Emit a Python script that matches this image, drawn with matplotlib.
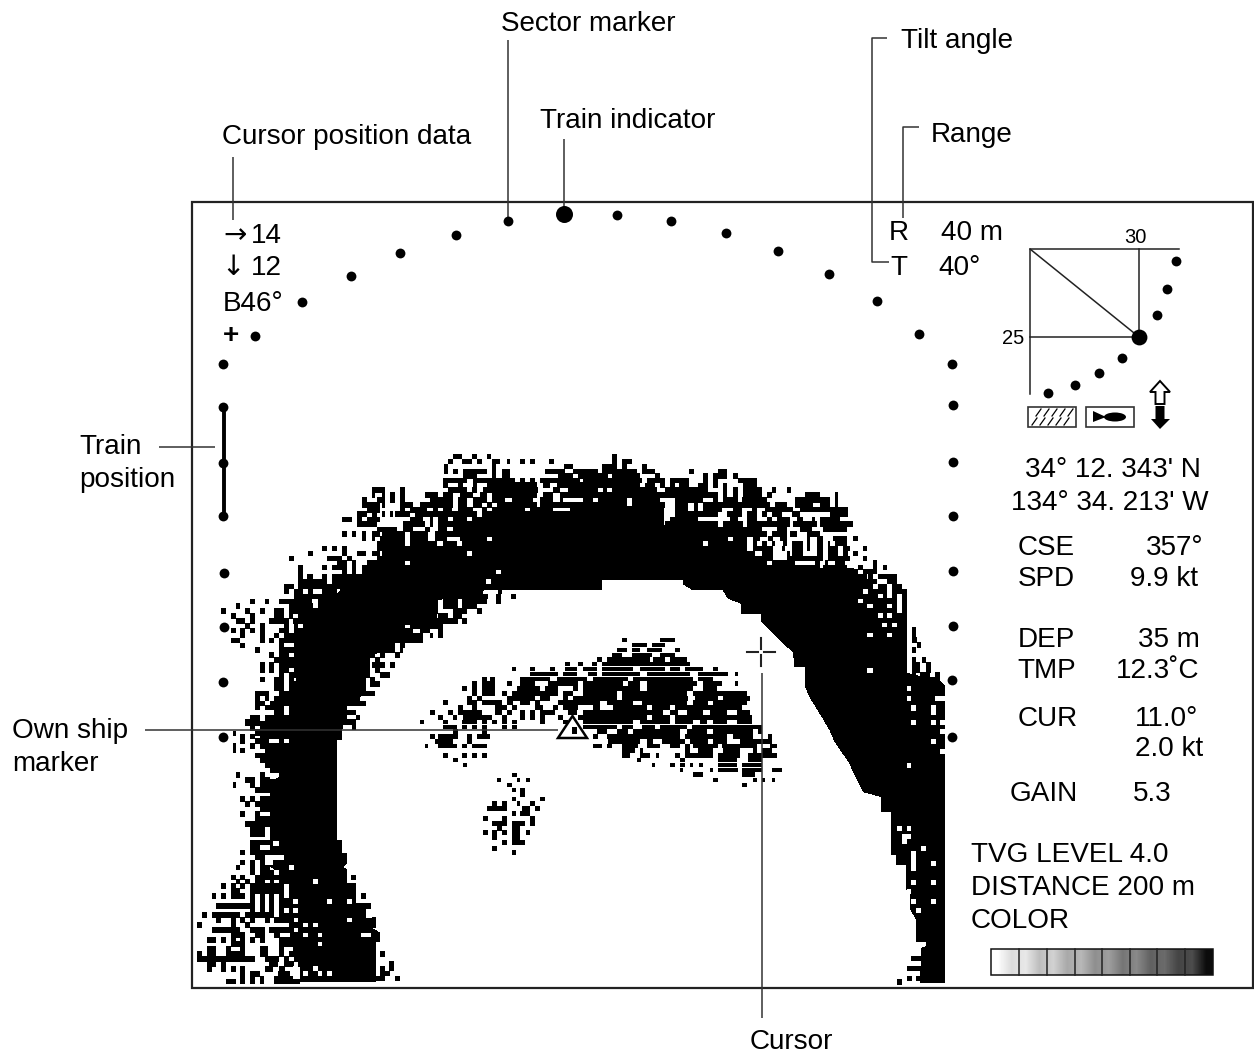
import matplotlib
matplotlib.use("Agg")
import matplotlib.pyplot as plt
from matplotlib.patches import Polygon, Rectangle, Ellipse

plt.rcParams['font.family'] = ['Liberation Sans', 'DejaVu Sans']

CELL = 5.6
FS = 20.1

# sector marker dots, pixel positions on the display
sector_x = [223, 255, 302, 351, 400, 456, 508, 617, 671, 726, 778, 829, 877, 919, 952, 953, 953, 953, 953, 953, 952, 952,
            223, 223, 223, 224, 224, 223, 223]
sector_y = [364, 336, 302, 276, 253, 235, 221, 215, 221, 233, 251, 274, 301, 334, 364, 405, 462, 516, 571, 626, 680, 737,
            407, 463, 516, 573, 627, 682, 737]
inset_x = [1176, 1167, 1157, 1122, 1099, 1075, 1048]
inset_y = [261, 289, 315, 358, 373, 385, 393]

# labels: text, x, baseline y
labels = [
    ("Sector marker", 501, 31), ("Tilt angle", 901, 48), ("Train indicator", 540, 128),
    ("Range", 931, 142), ("Cursor position data", 222, 144),
    ("Train", 79, 454), ("position", 79, 487), ("Own ship", 12, 738), ("marker", 12, 771),
    ("Cursor", 750, 1049),
    ("14", 251, 243), ("12", 251, 275), ("B46\u00b0", 223, 311),
    ("R", 889, 240), ("40 m", 941, 240), ("T", 890, 275), ("40\u00b0", 938, 275),
    ("34\u00b0 12. 343' N", 1025, 477), ("134\u00b0 34. 213' W", 1011, 510),
    ("CSE", 1018, 555), ("357\u00b0", 1146, 555), ("SPD", 1018, 586), ("9.9 kt", 1130, 586),
    ("DEP", 1018, 647), ("35 m", 1138, 647), ("TMP", 1017, 678), ("12.3\u02daC", 1116, 678),
    ("CUR", 1018, 726), ("11.0\u00b0", 1135, 726), ("2.0 kt", 1135, 756),
    ("GAIN", 1010, 801), ("5.3", 1133, 801),
    ("TVG LEVEL 4.0", 971, 862), ("DISTANCE 200 m", 971, 895), ("COLOR", 971, 928),
]
arrow_labels = [("\u2192", 223, 243), ("\u2193", 221, 275)]

# leader lines as (x list, y list)
leaders = [
    ([508, 508], [40, 221]), ([564, 564], [139, 214]), ([233, 233], [157, 220]),
    ([887, 872, 872, 889], [38, 38, 262, 262]), ([919, 903, 903], [127, 127, 218]),
    ([159, 215], [447, 447]), ([145, 558], [730, 730]), ([762, 762], [673, 1018]),
]

core_left = [(320, 900), (320, 650), (350, 590), (460, 440), (940, 440), (940, 320), (1000, 320), (1000, 225), (1205, 225),
             (1205, 450), (880, 450), (740, 480), (740, 540), (640, 555), (610, 610), (540, 650), (525, 720), (525, 760),
             (470, 790), (455, 870), (455, 900)]
core_foot = [(297, 0), (297, 70), (240, 70), (240, 155), (270, 175), (240, 180), (240, 440), (297, 460), (330, 480), (330, 785),
             (557, 785), (557, 665), (570, 665), (570, 640), (545, 625), (545, 595), (527, 595), (527, 550), (497, 550),
             (497, 490), (470, 490), (470, 450), (457, 440), (470, 430), (470, 400), (455, 400), (455, 360), (440, 360),
             (440, 60), (455, 35), (455, 0)]
core_right = [(0, 200), (220, 200), (220, 255), (330, 255), (330, 320), (470, 345), (530, 385), (790, 385), (790, 700), (950, 700),
              (1050, 725), (1065, 740), (1065, 900), (733, 900), (720, 870), (700, 835), (675, 795), (660, 770), (645, 735),
              (645, 680), (615, 680), (610, 635), (575, 605), (545, 575), (515, 545), (515, 520), (455, 520), (455, 490),
              (415, 475), (400, 450), (310, 450), (280, 432), (280, 420), (35, 420), (35, 450), (0, 450)]
core_leg = [(-48, 120), (0, 190), (10, 215), (40, 275), (95, 290), (95, 335), (125, 335), (125, 465), (140, 465), (140, 495),
            (170, 495), (170, 570), (180, 570), (180, 625), (198, 655), (198, 725), (228, 725), (228, 740), (215, 745),
            (212, 848), (285, 848), (285, 0), (-48, 0)]

# speckle rows: (crop y, x0, x1, x0, x1, ...)
rows_nw = [
    (50, 790, 815, 845, 860, 890, 903),
    (65, 775, 790, 815, 845, 860, 875, 905, 930, 950, 960, 990, 1005, 1020, 1035, 1078, 1092),
    (80, 762, 775, 905, 918, 1122, 1150),
    (95, 762, 775, 790, 803, 820, 890, 905, 918, 935, 960, 1065, 1125, 1150, 1200),
    (108, 820, 860, 905, 918, 935, 960, 1105, 1150, 1165, 1200),
    (122, 760, 830, 850, 975, 990, 1005, 1020, 1035, 1050, 1170, 1180, 1200),
    (135, 760, 775, 805, 820, 850, 860, 890, 1040, 1060, 1080, 1100, 1200),
    (150, 545, 585, 630, 645, 775, 830, 845, 860, 880, 1045, 1090, 1110, 1135, 1200),
    (165, 545, 555, 575, 585, 600, 615, 630, 645, 705, 745, 760, 790, 810, 850, 870, 890, 905, 1040, 1060, 1090, 1110, 1200),
    (180, 515, 530, 560, 585, 600, 615, 630, 645, 720, 790, 805, 830, 850, 890, 905, 945, 965, 1030, 1050, 1090, 1110, 1120, 1180, 1200),
    (195, 515, 570, 575, 585, 630, 670, 690, 790, 805, 830, 850, 875, 890, 905, 920, 1040, 1050, 1200),
    (210, 530, 570, 630, 645, 660, 710, 730, 745, 760, 785, 805, 850, 875, 890, 905, 1005, 1020, 1090, 1140, 1200),
    (222, 500, 530, 545, 560, 575, 585, 600, 610, 615, 660, 675, 860, 875, 1200),
    (238, 455, 485, 500, 515, 530, 570, 660, 700, 720, 730, 745, 775, 790, 830, 845, 1200),
    (252, 500, 560, 640, 705, 720, 730, 745, 1200),
    (268, 560, 620, 640, 670, 705, 720, 745, 770, 790, 1200),
    (282, 455, 470, 485, 497, 515, 527, 545, 570, 575, 645, 660, 715, 735, 1200),
    (295, 515, 527, 545, 555, 570, 645, 660, 715, 735, 770, 810, 890, 905, 1200),
    (310, 560, 645, 660, 740, 760, 800, 815, 1200),
    (325, 395, 410, 425, 440, 455, 470, 560, 1000),
    (340, 355, 368, 455, 470, 500, 527, 545, 570, 575, 830, 845, 1000),
    (355, 297, 312, 410, 455, 470, 485, 560, 1000),
    (368, 440, 470, 485, 497, 530, 645, 660, 1000),
    (382, 325, 340, 395, 410, 425, 470, 485, 497, 515, 1000),
    (396, 325, 340, 455, 470, 485, 497, 515, 918, 932, 1000),
    (410, 325, 340, 352, 368, 395, 410, 425, 1000),
    (425, 325, 395, 395, 410, 425, 888, 902, 1000),
    (440, 282, 312, 325, 940),
    (455, 282, 297, 312, 340, 355, 368, 395, 440, 455, 880, 925, 935),
    (470, 312, 895, 918, 932, 962, 978),
    (485, 180, 195, 225, 237, 267, 365, 385, 440, 455, 745, 760, 805, 815, 890, 918, 932),
    (498, 137, 150, 297, 370, 385, 440, 455, 745, 760, 805, 815, 860),
    (513, 93, 107, 165, 180, 210, 224, 252, 282, 297, 745, 790, 830, 860, 875),
    (528, 122, 137, 180, 195, 252, 282, 297, 310, 325, 730, 745, 775, 790, 815),
    (543, 137, 165, 180, 195, 237, 297, 310, 440, 455, 805, 815, 830),
    (558, 165, 180, 210, 224, 282, 297, 312, 325, 340, 385, 398, 645, 660, 760),
    (572, 122, 137, 150, 165, 180, 195, 210, 224, 267, 297, 312, 670, 690, 720, 745, 760),
    (587, 150, 165, 210, 224, 252, 267, 282, 700, 720, 730, 745, 760),
    (601, 122, 150, 210, 224, 237, 252, 267, 700),
    (616, 150, 165, 267, 282, 312, 615, 630, 645),
    (630, 195, 210, 267, 340, 355, 615, 630, 640),
    (645, 237, 252, 267, 297, 312, 555, 570, 585, 615, 630),
    (660, 252, 540, 555, 570),
    (675, 210, 224, 237, 252, 267, 540, 545, 585, 600, 615),
    (690, 210, 224, 237, 252, 267, 297, 312, 540, 555, 570),
    (705, 267, 282, 297, 540, 570, 600),
    (718, 210, 224, 252, 282, 297, 312, 325, 527, 540, 555),
    (732, 252, 282, 297, 527, 540, 570),
    (746, 252, 282, 297, 527),
    (760, 195, 237, 267, 555),
    (775, 195, 210, 224, 237, 252, 282, 282, 510),
    (790, 195, 225, 240, 527),
    (803, 195, 210, 224, 282, 297, 470),
    (817, 252, 282, 297, 497),
    (832, 180, 210, 224, 470, 497, 510),
    (846, 165, 210, 224, 497),
    (861, 180, 195, 210, 455, 485, 497),
    (875, 195, 210, 224, 455),
    (890, 150, 165, 180, 195, 210, 440),
]
rows_ne = [
    (50, 65, 80), (65, 65, 80, 95, 125), (80, 35, 80, 95, 110, 155, 170),
    (95, 0, 25, 35, 140, 155, 195, 297, 312, 385, 412),
    (108, 0, 55, 65, 150, 195, 210, 340, 355, 370, 412, 430, 445),
    (122, 0, 155, 170, 225, 240, 297, 340, 355, 370, 385, 445, 500),
    (137, 0, 150, 165, 195, 210, 225, 240, 255, 268, 297, 325, 355, 370, 385, 400, 412, 460, 500),
    (150, 0, 25, 38, 50, 65, 200, 225, 355, 400, 412, 430, 445, 460, 515, 545, 557, 590, 603),
    (165, 0, 385, 400, 412, 430, 445, 460, 515, 530, 545, 645, 690, 735, 745),
    (180, 0, 10, 25, 110, 125, 210, 255, 340, 370, 385, 400, 445, 455, 530, 615, 720, 735, 745),
    (195, 0, 110, 125, 225, 255, 295, 312, 325, 340, 540, 555, 590, 615, 670, 690, 720, 735, 745),
    (208, 255, 295, 312, 325, 340, 395, 430, 455, 485, 500, 525, 610, 630, 775),
    (222, 255, 385, 410, 455, 470, 500, 515, 530, 545, 575, 605, 630, 720, 775),
    (238, 240, 325, 420, 445, 470, 500, 530, 545, 560, 600, 620, 640, 665, 675, 690, 750),
    (252, 225, 385, 400, 460, 470, 600, 610, 680, 690, 790),
    (268, 320, 515, 560, 590, 630, 665, 700, 770),
    (282, 320, 530, 545, 590, 600, 620, 650, 690),
    (295, 320, 415, 430, 470, 490, 510, 535, 550, 570, 590, 650, 660, 680, 700, 730, 770, 790, 803),
    (310, 320, 340, 355, 470, 490, 500, 515, 530, 545, 555, 580, 590, 605, 640, 650, 660, 680, 700, 715, 720, 735, 770),
    (325, 320, 470, 490, 550, 575, 585, 605, 640, 650, 660, 680, 700, 715, 745, 760, 780, 820, 832),
    (340, 400, 495, 515, 550, 590, 600, 605, 640, 680, 700, 715, 745, 760, 775, 790, 805),
    (355, 450, 550, 590, 700, 715, 780, 820, 832),
    (368, 450, 530, 545, 615, 675, 690, 705, 715, 735, 765, 850, 862),
    (382, 500, 690, 700, 770, 805, 820, 850, 862, 880, 890),
    (395, 780, 805, 820, 862),
    (410, 780, 830, 835, 850, 865, 920),
    (425, 780, 860, 890, 920),
    (440, 780, 850, 865, 890, 905, 935),
    (455, 780, 820, 835, 890, 905, 950),
    (470, 780, 865, 880, 890, 905, 920, 935, 950),
    (483, 780, 805, 820, 920, 935, 950),
    (498, 780, 830, 850, 890, 905, 920, 935, 950),
    (512, 780, 920, 935, 950),
    (527, 780, 865, 880, 890, 905, 950),
    (541, 780, 950),
    (555, 780, 875, 890, 905, 920, 950),
    (570, 780, 950, 965, 978),
    (585, 780, 830, 850, 890, 905, 950, 965, 978),
    (600, 780, 950, 965, 980),
    (615, 780, 950, 980, 993),
    (630, 780, 950, 965, 978),
    (645, 780, 950),
    (660, 780, 950, 965, 978, 995, 1008),
    (675, 780, 950, 965, 990, 1008, 1022),
    (690, 780, 830, 850, 950, 965, 990, 1008, 1022),
    (705, 965, 978, 990, 1020, 1035, 1050),
    (718, 950, 1050),
]
rows_foot = [
    (10, 165, 300), (25, 180, 195, 210, 300), (40, 130, 137, 195, 300), (50, 150, 165, 180, 195, 210, 300),
    (63, 150, 165, 195, 237, 267, 282), (78, 130, 137, 180, 195, 210, 300), (92, 130, 137, 150, 165, 224, 240),
    (107, 195, 240), (122, 210, 240), (137, 225, 240), (165, 137, 150, 210, 225),
    (180, 165, 195, 210, 240), (195, 130, 137, 180, 195, 210, 240), (210, 195, 240),
    (237, 150, 165, 180, 195, 210, 240), (252, 165, 180, 195, 240), (267, 210, 240),
    (282, 150, 165, 195, 210), (297, 195, 240), (312, 165, 240), (327, 180, 225), (342, 180, 225),
    (367, 180, 240), (382, 180, 210), (397, 150, 165, 180, 240), (412, 195, 225),
    (427, 150, 165, 180, 195, 210, 225, 252, 282), (442, 137, 150, 180, 195, 210, 240, 252, 297),
    (457, 180, 195, 210, 252, 267, 300), (472, 122, 137, 150, 165, 195, 350),
    (485, 137, 150, 165, 180, 195, 225, 240, 252, 267, 360), (498, 93, 107, 122, 137, 150, 165, 180, 282, 297, 330),
    (513, 122, 150, 180, 282, 297, 330), (528, 65, 78, 93, 107, 122, 165, 180, 195, 210, 225, 238, 252, 267, 282, 297, 330),
    (542, 180, 195, 210, 225, 238, 252, 267, 312, 325, 330), (558, 78, 195, 210, 225, 238, 252, 267, 330),
    (572, 180, 195, 210, 225, 238, 252, 267, 282, 297, 312, 325, 330), (585, 35, 50, 65, 150, 165, 252, 267, 330),
    (600, 78, 92, 122, 137, 150, 165, 180, 195, 225, 240, 252, 312, 325, 330),
    (615, 20, 35, 122, 137, 165, 180, 297, 330), (630, 65, 150, 180, 225, 238, 312, 325, 330),
    (645, 122, 165, 195, 225, 252, 270, 300, 330), (660, 50, 78, 92, 107, 122, 137, 150, 165, 180, 195, 210, 225, 267, 340),
    (672, 122, 165, 267, 330), (687, 50, 78, 107, 122, 150, 165, 210, 235, 267, 282, 310, 330),
    (702, 22, 35, 50, 78, 107, 165, 210, 235, 267, 282, 297, 330), (717, 22, 195, 225, 267, 282, 297, 312, 330),
    (732, 50, 78, 92, 107, 237, 265, 282, 312, 325, 330), (747, 50, 65, 92, 107, 122, 137, 150, 165, 225, 250, 267, 285),
    (762, 150, 165, 180, 210, 265, 300), (775, 150, 165, 180, 195, 210, 222, 252, 310),
    (785, 107, 137, 150, 165, 180, 195, 210, 222, 252, 330),
    (472, 483, 497), (528, 513, 527), (558, 527, 542), (600, 545, 557), (615, 545, 557), (702, 570, 585), (730, 598, 613),
    (745, 570, 585, 598, 613), (760, 570, 600), (775, 557, 585, 615, 630),
]
rows_leg = [(775, 183, 212), (805, 170, 212), (835, 170, 185, 197, 212), (846, 140, 155)]
rows_mid = [
    (30, 605, 620, 720, 765), (45, 635, 680, 695, 735), (60, 590, 620, 635, 660, 680, 725, 765, 780),
    (75, 575, 605, 635, 695, 720, 765), (88, 530, 545, 560, 690, 700, 735, 750, 800),
    (102, 435, 450, 475, 490, 515, 530, 545, 810),
    (117, 275, 288, 330, 345, 390, 405, 435, 470, 490, 530, 545, 640, 660, 735, 750, 780, 795, 850, 880, 895),
    (132, 330, 415, 430, 470, 505, 530, 545, 660, 680, 810, 835, 925, 945, 955),
    (147, 185, 200, 210, 225, 300, 390, 410, 500, 520, 625, 640, 820, 835, 880),
    (160, 155, 170, 185, 225, 260, 275, 300, 345, 385, 475, 490, 610, 625, 660, 680, 830, 850, 905, 945, 955),
    (175, 125, 140, 155, 170, 185, 225, 290, 360, 375, 415, 460, 475, 490, 660, 680, 820, 850, 890),
    (190, 155, 170, 185, 225, 245, 260, 275, 415, 430, 460, 490, 590, 605, 800, 820, 980),
    (205, 140, 155, 170, 185, 260, 345, 360, 390, 430, 445, 460, 590, 605, 805, 825, 895, 910, 990),
    (218, 70, 85, 140, 170, 185, 245, 260, 280, 300, 330, 345, 360, 415, 540, 560, 640, 665, 800, 820, 865, 880, 980),
    (233, 115, 130, 155, 170, 225, 260, 275, 290, 345, 370, 400, 415, 430, 475, 520, 540, 580, 680, 695, 750, 765, 965),
    (248, 30, 45, 85, 100, 115, 185, 225, 245, 260, 275, 300, 315, 330, 345, 360, 405, 445, 470, 490, 730, 750, 775, 800, 850, 870, 920, 950, 990),
    (262, 55, 70, 100, 110, 130, 215, 245, 260, 300, 315, 330, 345, 360, 375, 415, 430, 475, 680, 695, 750, 765, 995),
    (276, 0, 12, 70, 85, 125, 170, 185, 200, 215, 230, 245, 260, 275, 290, 360, 375, 430, 445, 490, 640, 660, 750, 765, 820, 840, 860, 880, 920, 950, 995),
    (291, 70, 110, 125, 140, 155, 170, 185, 200, 245, 260, 275, 290, 490, 590, 605, 640, 665, 705, 720, 800, 815, 1025),
    (305, 100, 115, 185, 200, 530, 560, 590, 625, 640, 780, 800, 860, 880, 1000, 1015, 1025),
    (320, 30, 45, 55, 115, 140, 155, 170, 210, 520, 535, 560, 780, 795, 920, 940, 1000, 1045, 1055),
    (335, 45, 100, 140, 155, 565, 660, 680, 700, 725, 795, 810, 865, 880, 920, 960, 1055),
    (348, 15, 25, 55, 110, 125, 140, 155, 200, 520, 545, 560, 575, 605, 655, 680, 720, 750, 780, 795, 810, 820, 895, 905, 1010, 1050, 1070),
    (362, 605, 645, 660, 670, 795, 810, 835, 880, 910, 960, 1000, 1010, 1025, 1055),
    (376, 70, 85, 125, 140, 155, 170, 185, 200, 605, 630, 660, 690, 708, 718, 765, 780, 795, 880, 895, 960, 985, 1070),
    (390, 100, 115, 650, 662, 780, 795, 895, 950, 985, 1025),
    (405, 130, 140, 695, 705, 750, 765, 780, 795, 810, 820, 838, 850, 895, 950, 965, 1025),
    (420, 780, 790, 870, 880, 895, 955, 965, 1025, 1055, 1085),
    (433, 820, 850, 965, 1005),
    (450, 880, 895, 1000, 1010, 1025, 1035, 1055, 1065),
    (465, 965, 980),
    # small blob below
    (435, 275, 290), (450, 230, 243, 290, 300, 318, 330), (465, 260, 275), (480, 275, 288, 300, 315),
    (493, 300, 315), (507, 275, 288, 360, 375), (520, 215, 230, 245, 260, 290, 300, 330, 345),
    (535, 200, 260, 305, 330, 345, 360), (550, 275, 288, 300, 330), (565, 188, 203, 245, 260, 330, 345),
    (580, 215, 260, 275, 315, 330, 345), (595, 230, 245, 275, 300), (608, 188, 203, 215, 230, 245, 260, 275, 300, 318, 330),
    (622, 215, 230, 275, 300), (637, 245, 260, 275, 315), (655, 215, 230), (667, 275, 288),
]
# white holes inside the solid areas
holes_foot = [
    (165, 225, 267), (282, 210, 237), (327, 225, 237), (342, 225, 237), (370, 250, 267), (382, 210, 237), (412, 225, 282),
    (427, 225, 250), (442, 297, 312), (457, 252, 267), (485, 370, 385), (545, 310, 325, 410, 425, 470, 485),
    (572, 282, 297, 310, 325), (600, 470, 485), (615, 340, 355, 370, 385), (645, 340, 355, 385, 397, 513, 543),
    (672, 385, 397), (745, 310, 325, 370, 385), (760, 310, 325, 340, 355, 385, 397, 410, 425),
]
holes_ne = [
    (745, 950, 963), (775, 950, 963, 1035, 1065), (805, 963, 978, 1023, 1037), (818, 1023, 1037), (847, 963, 978, 1023, 1037),
]
holes_leg = [
    (22, 183, 197, 243, 257), (35, 243, 257), (67, 183, 197, 243, 257, 270, 285), (95, 270, 285), (125, 243, 257),
    (155, 270, 285), (197, 170, 184), (385, 140, 155, 170, 184), (410, 155, 184), (425, 155, 170), (445, 213, 228),
    (460, 183, 197), (475, 183, 197), (490, 183, 197, 243, 257), (505, 183, 197), (547, 183, 197, 243, 257),
    (575, 170, 184), (605, 183, 197, 243, 257), (632, 197, 213),
]

gray_stops = [0.99, 0.86, 0.91, 0.74, 0.82, 0.66, 0.72, 0.56, 0.62, 0.46, 0.54, 0.38, 0.42, 0.27, 0.30, 0.05]

# crop origins of the 3x crops
NW = (190, 440)
NE = (590, 440)
FOOT = (190, 720)
MID = (420, 630)
LEG = (850, 700)


def to_px(points, origin):
    return [(origin[0] + x / 3, origin[1] + y / 3) for x, y in points]


def draw_rows(ax, rows, origin, color='black', z=2, height=CELL):
    ys, lefts, widths = [], [], []
    for row in rows:
        for x0, x1 in zip(row[1::2], row[2::2]):
            ys.append(origin[1] + row[0] / 3)
            lefts.append(origin[0] + x0 / 3)
            widths.append((x1 - x0) / 3)
    ax.barh(ys, widths, left=lefts, height=height, color=color, linewidth=0, antialiased=False, zorder=z)


fig = plt.figure(figsize=(12.54, 10.53), dpi=100)
ax = fig.add_axes([0, 0, 1, 1])
ax.set_xlim(0, 1254)
ax.set_ylim(1053, 0)
ax.axis('off')

# echo
for pts, org in [(core_left, NW), (core_foot, FOOT), (core_right, NE), (core_leg, LEG)]:
    ax.add_patch(Polygon(to_px(pts, org), closed=True, fc='black', ec='none', antialiased=False, zorder=2))
draw_rows(ax, rows_nw, NW)
draw_rows(ax, rows_ne, NE)
draw_rows(ax, rows_foot, FOOT)
draw_rows(ax, rows_leg, LEG)
draw_rows(ax, rows_mid, MID, height=4.9)
draw_rows(ax, holes_foot, FOOT, color='white', z=3, height=4.6)
draw_rows(ax, holes_ne, NE, color='white', z=3, height=4.6)
draw_rows(ax, holes_leg, LEG, color='white', z=3, height=4.6)

# frame
ax.add_patch(Rectangle((192, 202), 1061, 786, fc='none', ec='#222222', lw=1.6, zorder=5))

# leaders
for xs, ys in leaders:
    ax.plot(xs, ys, color='#333333', lw=1.1, solid_capstyle='butt', zorder=6)

# sector marker dots
ax.scatter(sector_x, sector_y, s=50, color='black', linewidths=0, zorder=7)
ax.scatter([564], [214], s=150, color='black', linewidths=0, zorder=7)
ax.plot([224, 224], [407, 516], color='black', lw=2.8, zorder=7)

# own ship marker
ax.add_patch(Polygon([(572.5, 716), (558, 738), (587, 738)], closed=True, fc='white', ec='black', lw=1.8, zorder=7))
ax.add_patch(Rectangle((572, 727), 5, 7, fc='black', ec='none', zorder=8))

# cursor cross
for xs, ys in [([747, 758], [652, 652]), ([764, 775], [652, 652]), ([761, 761], [638, 649]), ([761, 761], [655, 666])]:
    ax.plot(xs, ys, color='#222222', lw=1.5, zorder=6)

# tilt inset
ax.plot([1179, 1030, 1030], [249, 249, 394], color='#222222', lw=1.1, zorder=6)
ax.plot([1139, 1139, 1030], [249, 337, 337], color='#222222', lw=1.1, zorder=6)
ax.plot([1030, 1139], [249, 337], color='#222222', lw=1.1, zorder=6)
ax.scatter(inset_x, inset_y, s=50, color='black', linewidths=0, zorder=7)
ax.scatter([1139], [337], s=130, color='black', linewidths=0, zorder=7)
ax.text(1135, 243, "30", fontsize=14.5, ha='center', va='baseline', color='black')
ax.text(1013, 344, "25", fontsize=14.5, ha='center', va='baseline', color='black')

# mode boxes
ax.add_patch(Rectangle((1028, 407), 47.5, 20, fc='white', ec='#333333', lw=1.2, zorder=6))
for x0 in [1036, 1044, 1052, 1060, 1068]:
    ax.plot([x0, x0 + 5], [416, 409], color='black', lw=0.9, zorder=7)
    ax.plot([x0 - 4, x0 + 1], [425, 418], color='black', lw=0.9, zorder=7)
ax.add_patch(Rectangle((1086, 407), 47.5, 20, fc='white', ec='#333333', lw=1.2, zorder=6))
ax.add_patch(Ellipse((1115, 417), 22, 9, fc='black', ec='none', zorder=7))
ax.add_patch(Polygon([(1093, 411), (1093, 422), (1106, 417)], closed=True, fc='black', ec='none', zorder=7))

# up/down arrows
ax.add_patch(Polygon([(1160, 381), (1170, 392), (1164.5, 392), (1164.5, 404), (1155.5, 404), (1155.5, 392), (1150, 392)],
                     closed=True, fc='white', ec='black', lw=1.4, zorder=7))
ax.add_patch(Polygon([(1155.5, 406), (1164.5, 406), (1164.5, 419), (1170, 419), (1160, 429), (1151, 419), (1155.5, 419)],
                     closed=True, fc='black', ec='none', zorder=7))

# colour scale
ax.imshow([gray_stops], cmap='gray', vmin=0, vmax=1, extent=(991, 1213, 975, 949), aspect='auto', interpolation='bilinear', zorder=4)
ax.set_xlim(0, 1254)
ax.set_ylim(1053, 0)
ax.add_patch(Rectangle((991, 949), 222, 26, fc='none', ec='#111111', lw=1.1, zorder=5))
for xd in [1019, 1047, 1075, 1102, 1130, 1157, 1185]:
    ax.plot([xd, xd], [949, 975], color='#222222', lw=1.1, zorder=5)

# texts
for txt, x, y in labels:
    ax.text(x, y, txt, fontsize=FS, ha='left', va='baseline', color='black', zorder=9)
for txt, x, y in arrow_labels:
    ax.text(x, y, txt, fontsize=FS, family='DejaVu Sans', ha='left', va='baseline', color='black', zorder=9)
ax.text(223, 343, "+", fontsize=FS, fontweight='bold', ha='left', va='baseline', color='black', zorder=9)

fig.savefig('out.png', dpi=100)
